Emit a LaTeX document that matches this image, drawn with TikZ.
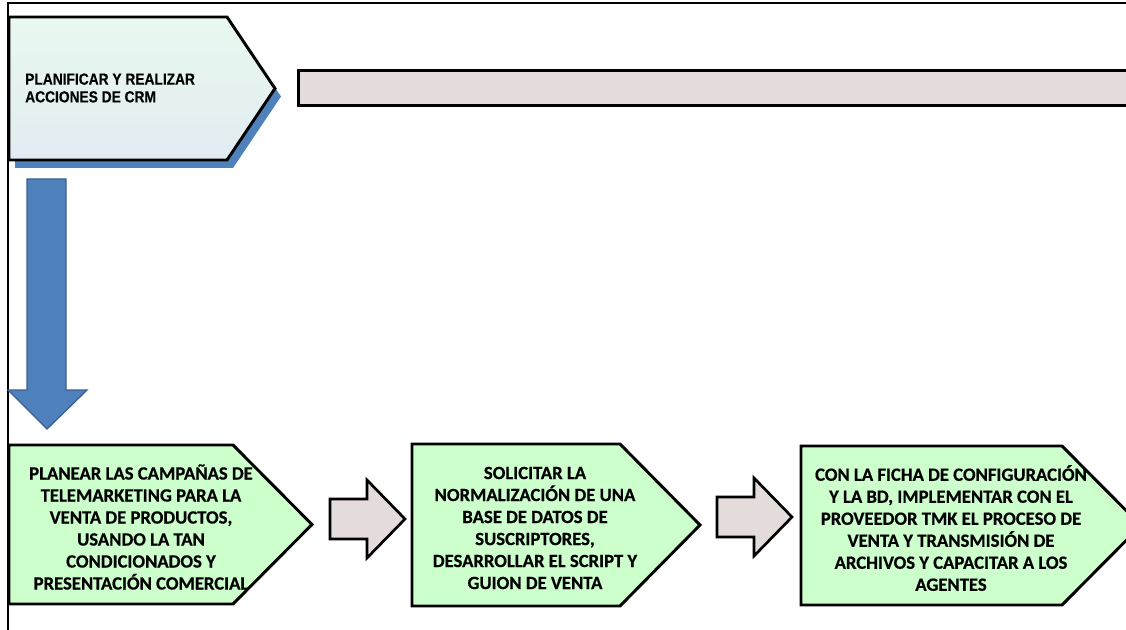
\documentclass[tikz,border=0pt]{standalone}
\usepackage{fontspec}
\usepackage{graphicx}
\newfontfamily\stagefont{Carlito-Bold.ttf}[FakeBold=0.6]
\newfontfamily\headfont{Liberation Sans Bold}[FakeBold=0.4]
\definecolor{StepGreen}{RGB}{204,255,204}
\definecolor{SoftGray}{RGB}{227,220,219}
\definecolor{FlowBlue}{RGB}{79,129,189}
\definecolor{FlowBlueDark}{RGB}{58,96,145}
\definecolor{PaleMint}{RGB}{232,249,239}
\definecolor{PaleSteel}{RGB}{227,235,242}
\tikzset{
  stage/.style={draw=black,line width=2.2pt,fill=StepGreen,line join=miter},
  stagetext/.style={align=center,inner sep=0pt,
    font=\stagefont\fontsize{14}{16.5}\selectfont},
  blockarrow/.style={draw=black,line width=2pt,fill=SoftGray,line join=miter}
}

\begin{document}
\begin{tikzpicture}[x=0.75pt,y=-0.75pt]
\useasboundingbox (0,0) rectangle (1126,630);
\clip (0,0) rectangle (1126,630);

% Frame
\draw[line width=1pt] (8,630) -- (8,3) -- (1126,3);

% Main process
\fill[FlowBlue] (15,25) -- (233,25) -- (281,96.5) -- (233,168) -- (15,168) -- cycle;
\draw[
  draw=black,
  line width=2.2pt,
  line join=miter,
  top color=PaleMint,
  bottom color=PaleSteel
] (9,17) -- (227,17) -- (275,88.5) -- (227,160) -- (9,160) -- cycle;
\node[
  anchor=west,
  align=left,
  inner sep=0pt,
  font=\headfont\fontsize{12}{13.3}\selectfont
] (crmtext) at (25,88)
  {\scalebox{0.86}[1]{PLANIFICAR Y REALIZAR}\\\scalebox{0.86}[1]{ACCIONES DE CRM}};

\node[
  draw=black,
  line width=2pt,
  fill=SoftGray,
  anchor=west,
  minimum width=660pt,
  minimum height=26pt
] (crmbar) at (297,88) {};

% Down arrow
\draw[fill=FlowBlue,draw=FlowBlueDark,line width=1pt]
  (27,179) -- (66,179) -- (66,390) -- (87,390) -- (47,429)
  -- (8,390) -- (27,390) -- cycle;

% Stages
\foreach \l/\r/\t/\a/\b in {9/233/312/445/604,412/620/700/444/606,801/1062/1141/446/605}{
  \draw[stage] (\l,\a) -- (\r,\a) -- (\t,{(\a+\b)/2}) -- (\r,\b) -- (\l,\b) -- cycle;
}

\node[stagetext] (plantext) at (141,527)
  {PLANEAR LAS CAMPAÑAS DE\\TELEMARKETING PARA LA\\VENTA DE PRODUCTOS,\\USANDO LA TAN\\CONDICIONADOS Y\\PRESENTACIÓN COMERCIAL};
\node[stagetext] (basetext) at (535,528)
  {SOLICITAR LA\\NORMALIZACIÓN DE UNA\\BASE DE DATOS DE\\SUSCRIPTORES,\\DESARROLLAR EL SCRIPT Y\\GUION DE VENTA};
\node[stagetext] (tmktext) at (951,528)
  {CON LA FICHA DE CONFIGURACIÓN\\Y LA BD, IMPLEMENTAR CON EL\\PROVEEDOR TMK EL PROCESO DE\\VENTA Y TRANSMISIÓN DE\\ARCHIVOS Y CAPACITAR A LOS\\AGENTES};

% Gray arrows
\foreach \x/\y in {330/519,717/517}{
  \draw[blockarrow]
    (\x,\y-20) -- (\x+37,\y-20) -- (\x+37,\y-39) -- (\x+75,\y)
    -- (\x+37,\y+39) -- (\x+37,\y+20) -- (\x,\y+20) -- cycle;
}

\end{tikzpicture}
\end{document}
